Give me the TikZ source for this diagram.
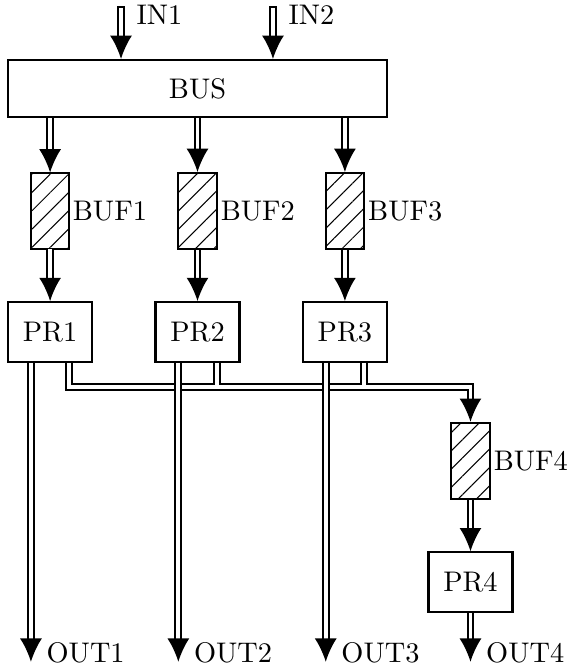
\documentclass[11pt,tikz,border=0pt]{standalone}
\usetikzlibrary{arrows.meta,patterns.meta}

\tikzset{
    box/.style={draw,line width=0.8pt,inner sep=0pt},
    proc/.style={box,minimum width=1.14cm,minimum height=0.81cm},
    buf/.style={box,minimum width=0.52cm,minimum height=1.03cm,
        pattern={Lines[angle=45,distance=5pt,line width=0.4pt]}},
    lbl/.style={inner sep=1pt},
    dbl/.style={double,line width=0.75pt,double distance=1.5pt,
        >={Latex[length=9pt,width=8.5pt]},->},
}
% one column: buffer and processor below the bus
\newcommand\Stage[2]{%
    \node[buf] (buf#1) at (#2,-2.863) {};
    \node[lbl,anchor=west] (buf#1l) at (buf#1.east) {BUF#1};
    \node[proc] (pr#1) at (#2,-4.505) {PR#1};
    \coordinate (pr#1a) at ([xshift=-0.26cm]pr#1.south);
    \coordinate (pr#1b) at ([xshift=0.26cm]pr#1.south);
    \coordinate (out#1) at (pr#1a |- bot);
    \draw[dbl] (bus.south -| buf#1) -- (buf#1);
    \draw[dbl] (buf#1) -- (pr#1);
}

\begin{document}
\begin{tikzpicture}
    \useasboundingbox (0,0) rectangle (7.693,-9.01);
    \coordinate (bot) at (0,-8.98);
    \node[box,minimum width=5.14cm,minimum height=0.774cm] (bus) at (2.68,-1.201) {BUS};
    \coordinate (in1) at (1.642,-0.081);
    \coordinate (in2) at (3.704,-0.081);
    \draw[dbl,{Bar[width=3pt]}->] (in1) node[lbl,anchor=west,xshift=0.165cm,yshift=-0.123cm] (in1l) {IN1} -- (in1 |- bus.north);
    \draw[dbl,{Bar[width=3pt]}->] (in2) node[lbl,anchor=west,xshift=0.165cm,yshift=-0.123cm] (in2l) {IN2} -- (in2 |- bus.north);
    \Stage{1}{0.68}
    \Stage{2}{2.68}
    \Stage{3}{4.68}
    % fourth processor fed by all three
    \node[buf] (buf4) at (6.384,-6.253) {};
    \node[lbl,anchor=west] (buf4l) at (buf4.east) {BUF4};
    \node[proc] (pr4) at (6.384,-7.9) {PR4};
    \coordinate (join) at (6.384,-5.251);
    \coordinate (out4) at (pr4 |- bot);
    \draw[dbl] (pr2b) -- (pr2b |- join) (pr3b) -- (pr3b |- join)
        (pr1b) |- (join) -- (buf4);
    \draw[dbl] (buf4) -- (pr4);
    \draw[dbl] (pr1a) -- (out1) node[lbl,anchor=west,xshift=0.165cm,yshift=0.127cm] (out1l) {OUT1};
    \draw[dbl] (pr2a) -- (out2) node[lbl,anchor=west,xshift=0.165cm,yshift=0.127cm] (out2l) {OUT2};
    \draw[dbl] (pr3a) -- (out3) node[lbl,anchor=west,xshift=0.165cm,yshift=0.127cm] (out3l) {OUT3};
    \draw[dbl] (pr4) -- (out4) node[lbl,anchor=west,xshift=0.165cm,yshift=0.127cm] (out4l) {OUT4};
\end{tikzpicture}
\end{document}
